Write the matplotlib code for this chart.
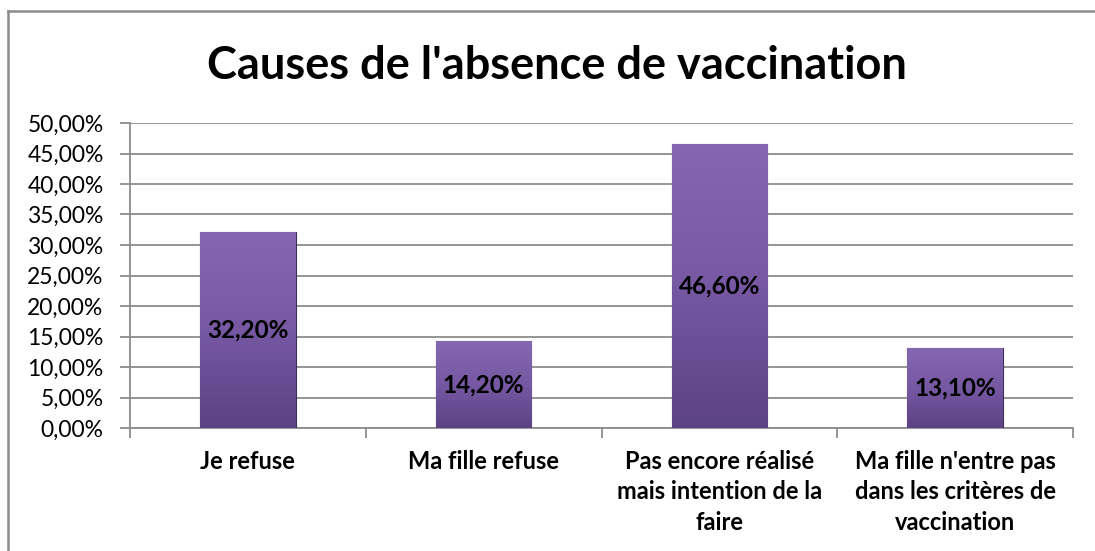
import matplotlib
matplotlib.use("Agg")
import matplotlib.pyplot as plt
import numpy as np
from matplotlib.lines import Line2D
from matplotlib.ticker import MultipleLocator, FuncFormatter
from matplotlib.colors import LinearSegmentedColormap

categories = ["Je refuse", "Ma fille refuse",
              "Pas encore réalisé\nmais intention de la\nfaire",
              "Ma fille n'entre pas\ndans les critères de\nvaccination"]
values = [32.20, 14.20, 46.60, 13.10]
title = "Causes de l'absence de vaccination"

plt.rcParams['font.family'] = ['Lato', 'DejaVu Sans']

W, H = 1095, 551
fig = plt.figure(figsize=(W / 100, H / 100), dpi=100)
ax = fig.add_axes([130 / W, 1 - 428 / H, (1073 - 130) / W, (428 - 123) / H])

x = np.arange(len(categories))
bars = ax.bar(x, values, width=0.405, color='#6f529b', edgecolor='#3e2d5a',
              linewidth=0.8, zorder=3)

grad = np.linspace(0, 1, 256).reshape(-1, 1)
cmap = LinearSegmentedColormap.from_list('p', ['#5c4384', '#7658a3', '#8466b1'])
for b in bars:
    x0, y0 = b.get_x(), b.get_y()
    w, h = b.get_width(), b.get_height()
    im = ax.imshow(grad, cmap=cmap, origin='lower', aspect='auto',
                   extent=(x0, x0 + w, y0, y0 + h), zorder=3.5)
    im.set_clip_path(b)

for xi, v in zip(x, values):
    ax.text(xi, v / 2, f"{v:.2f}%".replace('.', ','), ha='center', va='center',
            fontsize=17.5, fontweight='bold', color='black', zorder=5)

ax.set_xlim(-0.5, len(categories) - 0.5)
ax.set_ylim(0, 50)
ax.yaxis.set_major_locator(MultipleLocator(5))
ax.yaxis.set_major_formatter(FuncFormatter(lambda v, p: f"{v:.2f}%".replace('.', ',')))
ax.grid(axis='y', color='#8c8c8c', linewidth=1.3, zorder=0)
ax.set_axisbelow(True)

ax.set_xticks(x)
ax.set_xticklabels(categories, fontsize=17, fontweight='bold', linespacing=1.38)
ax.tick_params(axis='x', length=0, pad=16)
ax.set_xticks(np.arange(-0.5, len(categories)), minor=True)
ax.tick_params(axis='x', which='minor', length=7, color='#8c8c8c', width=1.3, direction='out')
ax.tick_params(axis='y', length=7, color='#8c8c8c', width=1.3, labelsize=16.5, pad=12)

for s in ['top', 'right']:
    ax.spines[s].set_visible(False)
for s in ['left', 'bottom']:
    ax.spines[s].set_color('#8c8c8c')
    ax.spines[s].set_linewidth(1.3)

fig.text(557 / W, 1 - 66 / H, title, ha='center', va='center',
         fontsize=32.5, fontweight='bold')

fig.add_artist(Line2D([8 / W, 1], [1 - 11 / H, 1 - 11 / H], color='#8c8c8c', lw=1.8,
                      transform=fig.transFigure))
fig.add_artist(Line2D([8 / W, 8 / W], [1 - 11 / H, 0], color='#8c8c8c', lw=1.8,
                      transform=fig.transFigure))

fig.savefig("out.png", dpi=100)
